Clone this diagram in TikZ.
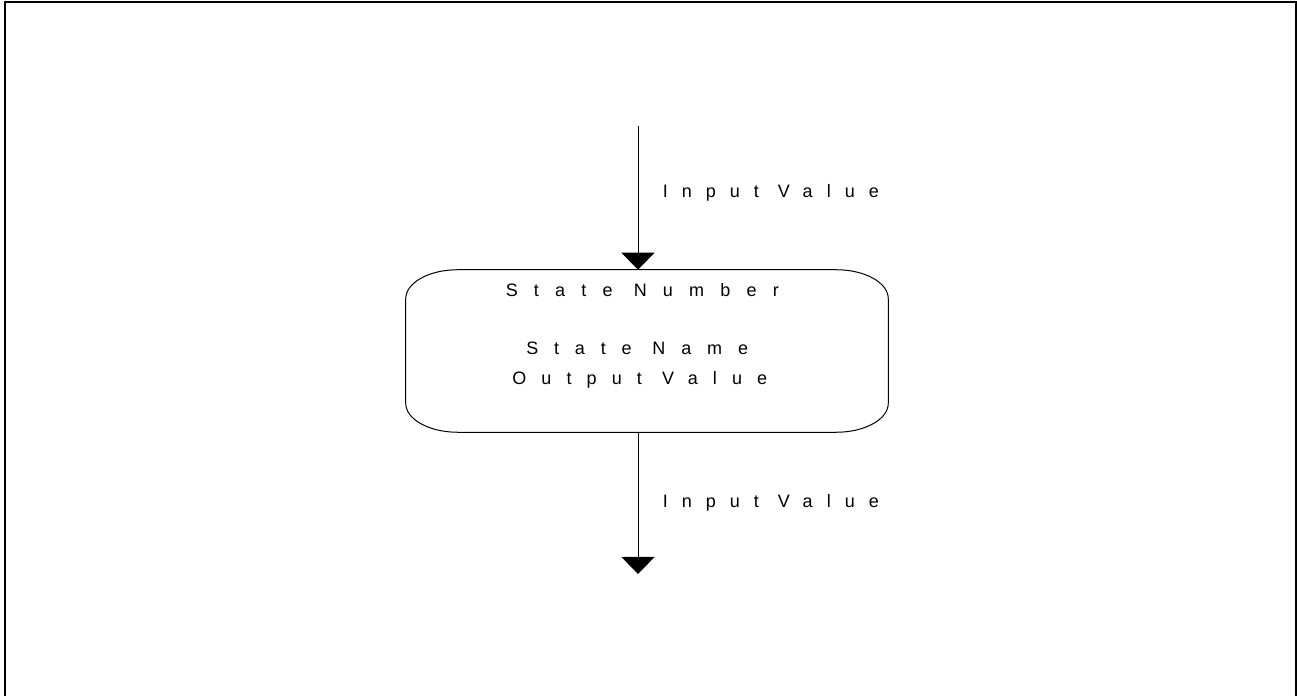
\documentclass[tikz,border=0pt]{standalone}
\usepackage{fontspec}
\setmainfont{Liberation Sans}
\newfontfamily\spacedIV[LetterSpace=78]{Liberation Sans}
\newfontfamily\spacedSNum[LetterSpace=90]{Liberation Sans}
\newfontfamily\spacedSName[LetterSpace=88]{Liberation Sans}
\newfontfamily\spacedOV[LetterSpace=84]{Liberation Sans}
\usetikzlibrary{arrows.meta}
\begin{document}
\begin{tikzpicture}[x=0.75pt,y=0.75pt,
  lab/.style={inner sep=0pt, anchor=base west},
  fs/.style={font=#1\fontsize{13.5}{16}\selectfont},
  conn/.style={line width=0.75pt, -{Triangle[width=24.75pt,length=12.75pt]}},
  boxline/.style={line width=0.75pt}]
\useasboundingbox (0,0) rectangle (1297,696);
\draw[line width=1.5pt] (5,0) -- (5,694) -- (1296,694) -- (1296,0);
\node[minimum width=361.5pt, minimum height=121.5pt, inner sep=0pt] (box) at (647,345) {};
\draw[boxline] ([xshift=39pt]box.north west) -- ([xshift=-39pt]box.north east)
  arc[start angle=90,end angle=0,x radius=39pt,y radius=21.75pt]
  -- ([yshift=21.75pt]box.south east)
  arc[start angle=0,end angle=-90,x radius=39pt,y radius=21.75pt]
  -- ([xshift=39pt]box.south west)
  arc[start angle=270,end angle=180,x radius=39pt,y radius=21.75pt]
  -- ([yshift=-21.75pt]box.north west)
  arc[start angle=180,end angle=90,x radius=39pt,y radius=21.75pt] -- cycle;
\coordinate (in) at (638,570);
\coordinate (out) at (638,122);
\draw[conn] (in) -- (in |- box.north);
\draw[conn] (out |- box.south) -- (out);
\node[lab, fs=\spacedIV] (inlab) at (662.5,498) {Input Value};
\node[lab, fs=\spacedIV] (outlab) at (662.5,188) {Input Value};
\node[lab, fs=\spacedSNum] (num) at (505.5,399) {State Number};
\node[lab, fs=\spacedSName] (name) at (526,341) {State Name};
\node[lab, fs=\spacedOV] (oval) at (512,311) {Output Value};
\end{tikzpicture}
\end{document}
